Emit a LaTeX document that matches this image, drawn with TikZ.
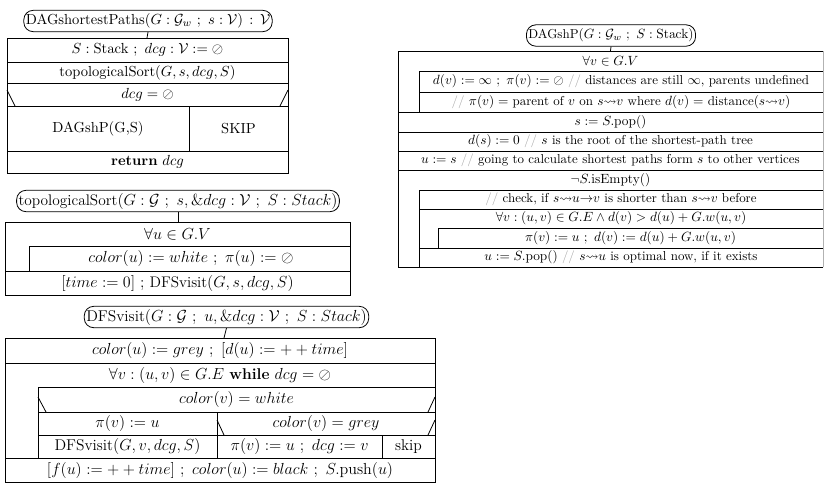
\documentclass[tikz,border=0pt]{standalone}
\usepackage{amsmath,amssymb}
\usetikzlibrary{calc}
\newcommand{\cmt}{\textcolor{gray!70}{//}}
\begin{document}
\begin{tikzpicture}[x=0.75pt,y=-0.75pt,
  ln/.style={line width=0.6pt},
  title/.style={draw,line width=0.6pt,rounded corners=7pt,inner xsep=1.5pt,inner ysep=2pt,minimum height=16pt},
  fa/.style={font=\fontsize{10.9}{13}\selectfont},
  fb/.style={font=\fontsize{11.5}{14}\selectfont},
  fc/.style={font=\fontsize{11.7}{14}\selectfont},
  fd/.style={font=\fontsize{9.7}{12}\selectfont},
  ta/.style={inner sep=0pt,fa},
  tb/.style={inner sep=0pt,fb},
  tc/.style={inner sep=0pt,fc},
  td/.style={inner sep=0pt,fd}]
\useasboundingbox (0,0) rectangle (827,490);
% ---------- Diagram 1 ----------
\node[title,fa] (t1) at (148,21) {DAGshortestPaths$(G:\mathcal{G}_w\ ;\ s:\mathcal{V})\,:\,\mathcal{V}$};
\coordinate (b1) at (147,38);
\draw[ln] (t1.south) -- (b1);
\draw[ln] (7,38) rectangle (288,173);
\draw[ln] (7,62) -- (288,62);
\draw[ln] (7,83) -- (288,83);
\draw[ln] (7,106) -- (288,106);
\draw[ln] (7,151) -- (288,151);
\draw[ln] (189,106) -- (189,151);
\draw[ln] (7,90) -- (15,106);
\draw[ln] (288,90) -- (280,106);
\node[ta] (a1) at (147.5,50) {$S:\mathrm{Stack}\ ;\ dcg:\mathcal{V}:=\oslash$};
\node[ta] (a2) at (147.5,72.5) {topologicalSort$(G,s,dcg,S)$};
\node[ta] (a3) at (147.5,94.5) {$dcg=\oslash$};
\node[ta] (a4) at (98,128.5) {DAGshP(G,S)};
\node[ta] (a5) at (238.5,128.5) {SKIP};
\node[ta] (a6) at (147.5,162) {\textbf{return} $dcg$};
% ---------- Diagram 2 ----------
\node[title,fb] (t2) at (178,201) {topologicalSort$(G:\mathcal{G}\ ;\ s,\&dcg:\mathcal{V}\ ;\ S:Stack)$};
\coordinate (b2) at (178,222);
\draw[ln] (t2.south) -- (b2);
\draw[ln] (5,222) rectangle (350,295);
\draw[ln] (29,246) -- (350,246);
\draw[ln] (29,246) -- (29,271);
\draw[ln] (5,271) -- (350,271);
\node[tb] (c1) at (177.5,234) {$\forall u\in G.V$};
\node[tb] (c2) at (191,258.5) {$color(u):=white\ ;\ \pi(u):=\oslash$};
\node[tb] (c3) at (177.5,283) {$[time:=0]\ ;\ $DFSvisit$(G,s,dcg,S)$};
% ---------- Diagram 3 ----------
\node[title,fc] (t3) at (226.5,317) {DFSvisit$(G:\mathcal{G}\ ;\ u,\&dcg:\mathcal{V}\ ;\ S:Stack)$};
\coordinate (b3) at (224,338);
\draw[ln] (t3.south) -- (b3);
\draw[ln] (5,338) rectangle (435,482);
\draw[ln] (5,363) -- (435,363);
\draw[ln] (38,387) -- (435,387);
\draw[ln] (38,387) -- (38,458);
\draw[ln] (38,412) -- (435,412);
\draw[ln] (38,397) -- (46,412);
\draw[ln] (435,397) -- (428,412);
\draw[ln] (217,412) -- (217,458);
\draw[ln] (38,435) -- (435,435);
\draw[ln] (217,420) -- (224,435);
\draw[ln] (435,420) -- (428,435);
\draw[ln] (382,435) -- (382,458);
\draw[ln] (5,458) -- (435,458);
\node[tc] (d1) at (220,350.5) {$color(u):=grey\ ;\ [d(u):=++time]$};
\node[tc] (d2) at (220,375) {$\forall v:(u,v)\in G.E$ \textbf{while} $dcg=\oslash$};
\node[tc] (d3) at (236.5,399.5) {$color(v)=white$};
\node[tc] (d4) at (127.5,423.5) {$\pi(v):=u$};
\node[tc] (d5) at (326,423.5) {$color(v)=grey$};
\node[tc] (d6) at (127.5,446.5) {DFSvisit$(G,v,dcg,S)$};
\node[tc] (d7) at (299.5,446.5) {$\pi(v):=u\ ;\ dcg:=v$};
\node[tc] (d8) at (408.5,446.5) {skip};
\node[tc] (d9) at (220,470) {$[f(u):=++time]\ ;\ color(u):=black\ ;\ S.\mathrm{push}(u)$};
% ---------- Diagram 4 ----------
\node[title,font=\fontsize{9.7}{12}\selectfont] (t4) at (611,35.5) {DAGshP$(G:\mathcal{G}_w\ ;\ S:\mathrm{Stack})$};
\coordinate (b4) at (610.5,51);
\draw[ln] (t4.south) -- (b4);
\draw[ln] (823,267) -- (398,267) -- (398,51) -- (823,51);
\draw[ln,gray!60] (823,51) -- (823,267);
\draw[ln] (419,71) -- (823,71);
\draw[ln] (419,71) -- (419,112);
\draw[ln] (419,92) -- (823,92);
\draw[ln] (398,112) -- (823,112);
\draw[ln] (398,132) -- (823,132);
\draw[ln] (398,151) -- (823,151);
\draw[ln] (398,170) -- (823,170);
\draw[ln] (419,190) -- (823,190);
\draw[ln] (419,190) -- (419,267);
\draw[ln] (419,209) -- (823,209);
\draw[ln] (438,228) -- (823,228);
\draw[ln] (438,228) -- (438,248);
\draw[ln] (419,248) -- (823,248);
\node[td] (e1) at (610.5,61) {$\forall v\in G.V$};
\node[td] (e2) at (621,81.5) {$d(v):=\infty\ ;\ \pi(v):=\oslash$ \cmt{} distances are still $\infty$, parents undefined};
\node[td] (e3) at (621,102) {\cmt{} $\pi(v)=$ parent of $v$ on $s{\leadsto}v$ where $d(v)=$ distance$(s{\leadsto}v)$};
\node[td] (e4) at (610.5,122) {$s:=S.\mathrm{pop}()$};
\node[td] (e5) at (610.5,141.5) {$d(s):=0$ \cmt{} $s$ is the root of the shortest-path tree};
\node[td] (e6) at (610.5,160.5) {$u:=s$ \cmt{} going to calculate shortest paths form $s$ to other vertices};
\node[td] (e7) at (610.5,180) {$\neg S.\mathrm{isEmpty}()$};
\node[td] (e8) at (621,199.5) {\cmt{} check, if $s{\leadsto}u{\to}v$ is shorter than $s{\leadsto}v$ before};
\node[td] (e9) at (621,218.5) {$\forall v:(u,v)\in G.E\wedge d(v)>d(u)+G.w(u,v)$};
\node[td] (e10) at (630.5,238) {$\pi(v):=u\ ;\ d(v):=d(u)+G.w(u,v)$};
\node[td] (e11) at (621,257.5) {$u:=S.\mathrm{pop}()$ \cmt{} $s{\leadsto}u$ is optimal now, if it exists};
\end{tikzpicture}
\end{document}
